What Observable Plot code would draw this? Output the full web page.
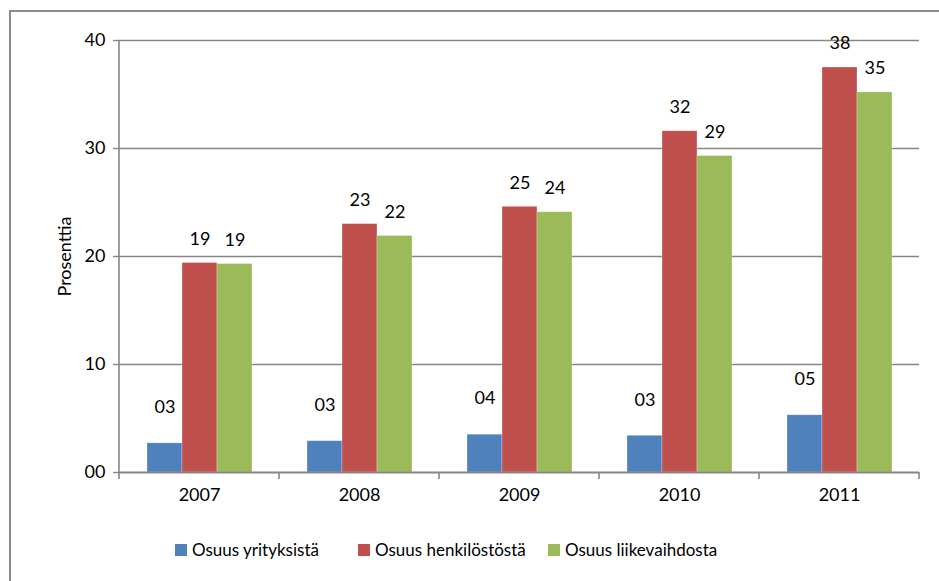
<!DOCTYPE html>
<html>
<head>
<meta charset="utf-8">
<script src="https://cdn.jsdelivr.net/npm/d3@7"></script>
<script src="https://cdn.jsdelivr.net/npm/@observablehq/plot@0.6"></script>
<style>
  body { margin: 0; background: #fff; }
  #wrap { position: relative; width: 939px; height: 581px; overflow: hidden; font-family: Lato, "Open Sans", sans-serif; }
  #frame { position: absolute; left: 9px; top: 10px; width: 940px; height: 590px; border: 2px solid #8a8a8a; box-sizing: border-box; }
  #chart { position: absolute; left: 0; top: 0; }
  .leg { position: absolute; top: 539px; font-size: 17px; color: #000; display: flex; align-items: center; white-space: nowrap; }
  .leg span.sw { display: inline-block; width: 12px; height: 12px; margin-right: 5px; }
</style>
</head>
<body>
<div id="wrap">
  <div id="frame"></div>
  <div id="chart"></div>
  <div id="legend"></div>
</div>
<script>
const years = ["2007", "2008", "2009", "2010", "2011"];
const series = ["Osuus yrityksistä", "Osuus henkilöstöstä", "Osuus liikevaihdosta"];
const colors = ["#4F81BD", "#C0504D", "#9BBB59"];
const yrityksista = [2.7, 2.9, 3.5, 3.4, 5.3];
const henkilostosta = [19.4, 23.0, 24.6, 31.6, 37.5];
const liikevaihdosta = [19.3, 21.9, 24.1, 29.3, 35.2];
const yTicks = [0, 10, 20, 30, 40];

const valuesBySeries = [yrityksista, henkilostosta, liikevaihdosta];
const data = years.flatMap((year, i) =>
  series.map((s, k) => ({ year, series: s, value: valuesBySeries[k][i] }))
);
const fmt = d3.format("02.0f");

const chart = Plot.plot({
  width: 939,
  height: 581,
  marginTop: 40,
  marginBottom: 109,
  marginLeft: 118,
  marginRight: 20,
  style: { fontFamily: "Lato, 'Open Sans', sans-serif", fontSize: "18px", color: "#000", background: "transparent", overflow: "visible" },
  fx: { domain: years, padding: 0, label: null, axis: null },
  x: { domain: series, paddingInner: 0, paddingOuter: 0.75, axis: null },
  y: { domain: [0, 40], label: null, axis: null },
  color: { domain: series, range: colors },
  marks: [
    Plot.gridY([10, 20, 30, 40], { stroke: "#868686", strokeOpacity: 1, strokeWidth: 1.4 }),
    Plot.barY(data, { fx: "year", x: "series", y: "value", fill: "series", stroke: "#ffffff", strokeOpacity: 0.35, strokeWidth: 0.8 }),
    Plot.ruleY([0], { stroke: "#868686", strokeWidth: 2 }),
    Plot.text(data.filter(d => d.series === series[0]), {
      fx: "year", x: "series", y: "value",
      text: d => fmt(d.value), dy: -36, fill: "#000", fontSize: 18
    }),
    Plot.text(data.filter(d => d.series !== series[0]), {
      fx: "year", x: "series", y: "value",
      text: d => fmt(d.value), dy: -24, fill: "#000", fontSize: 18
    }),
    Plot.axisY({ ticks: yTicks, tickFormat: d3.format("02d"), tickSize: 6, tickPadding: 8, stroke: "#868686", strokeWidth: 1.4, label: "Prosenttia", labelAnchor: "center", labelOffset: 61, labelArrow: "none" }),
    Plot.axisFx({ anchor: "bottom", tickSize: 0, tickPadding: 16, label: null })
  ]
});
document.getElementById("chart").appendChild(chart);

// y axis line and category boundary tick marks from the library's scales
const fxs = chart.scale("fx");
const ys = chart.scale("y");
const g = d3.select(chart).append("g").attr("stroke", "#868686").attr("stroke-width", 1.6);
const x0 = fxs.apply(years[0]);
const bounds = years.map(y => fxs.apply(y)).concat([fxs.apply(years[years.length - 1]) + fxs.bandwidth]);
g.append("line").attr("x1", x0).attr("x2", x0).attr("y1", ys.apply(40)).attr("y2", ys.apply(0));
bounds.forEach(b => {
  g.append("line").attr("x1", b).attr("x2", b).attr("y1", ys.apply(0)).attr("y2", ys.apply(0) + 7);
});

// legend
const legLefts = [175, 358, 548];
const legend = document.getElementById("legend");
series.forEach((s, k) => {
  const item = document.createElement("div");
  item.className = "leg";
  item.style.left = legLefts[k] + "px";
  item.innerHTML = `<span class="sw" style="background:${colors[k]}"></span>${s}`;
  legend.appendChild(item);
});
</script>
</body>
</html>
